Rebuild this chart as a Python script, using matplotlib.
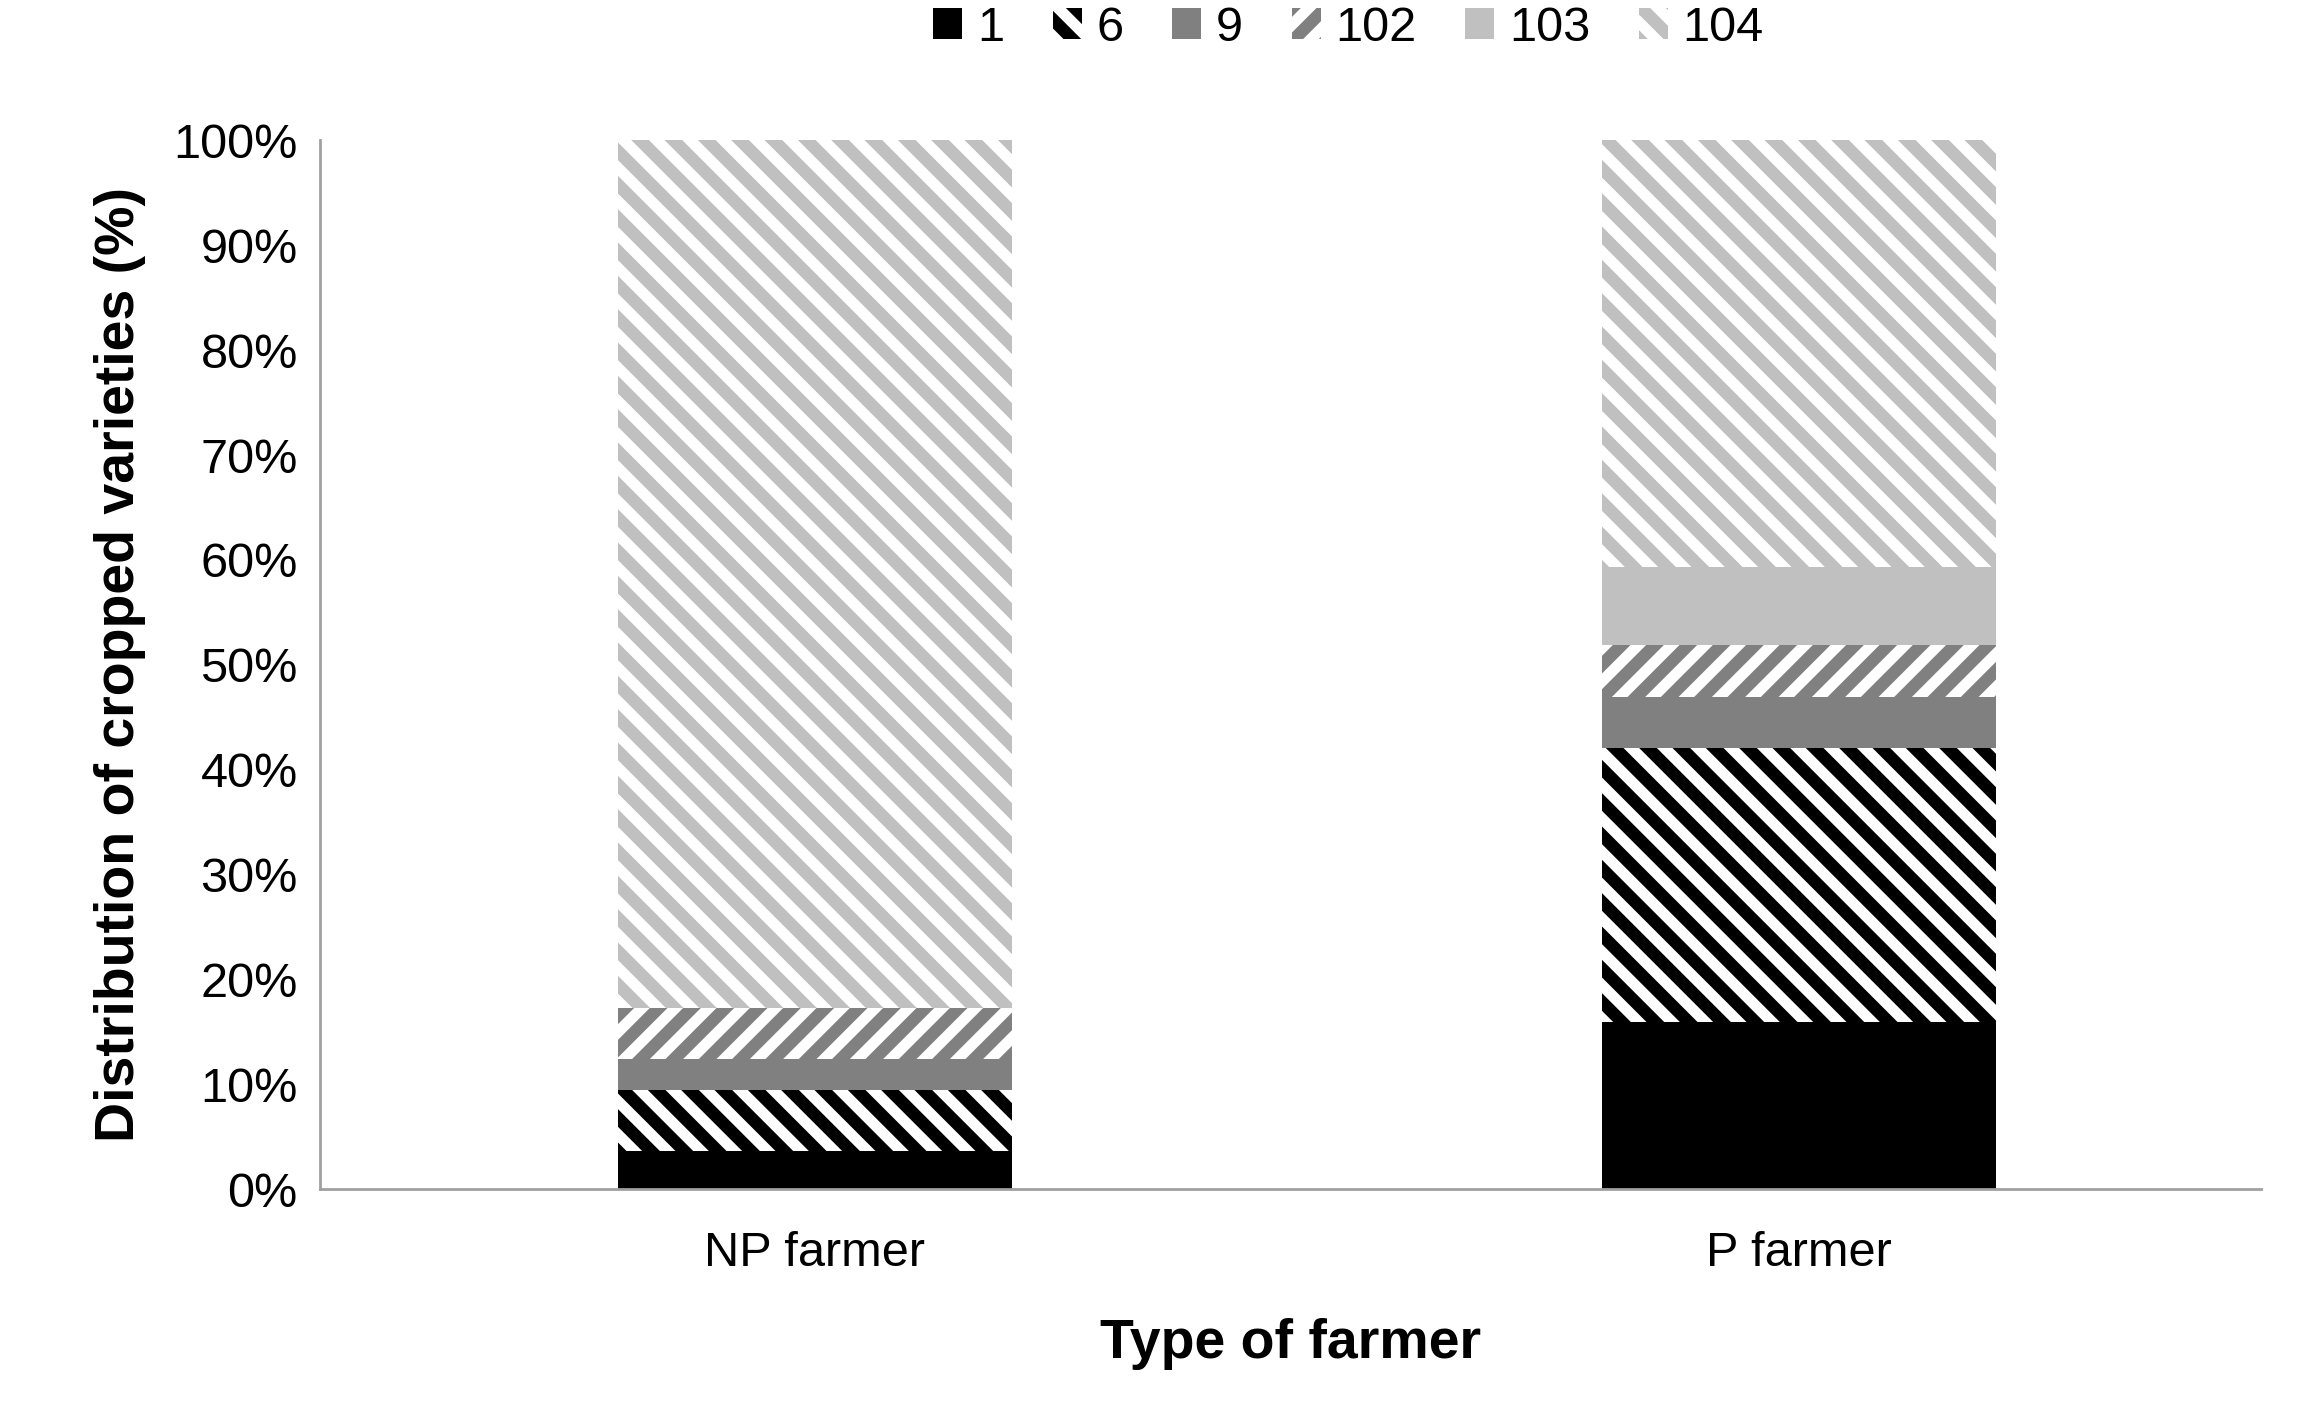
import matplotlib
matplotlib.use("Agg")
import matplotlib.pyplot as plt
from matplotlib.ticker import PercentFormatter

categories = ["NP farmer", "P farmer"]
series = ["1", "6", "9", "102", "103", "104"]
v1 = [3.6, 15.9]
v6 = [5.9, 26.2]
v9 = [2.9, 4.8]
v102 = [4.9, 5.0]
v103 = [0.0, 7.4]
v104 = [82.7, 40.7]

plt.rcParams['font.family'] = ['Liberation Sans', 'DejaVu Sans']
plt.rcParams['hatch.linewidth'] = 9

fig = plt.figure(figsize=(23.02, 14.04), dpi=100)
ax = fig.add_axes([0.139, 0.153, 0.843, 0.747])

styles = [
    dict(facecolor="black", edgecolor="black", hatch=None),
    dict(facecolor="white", edgecolor="black", hatch="\\"),
    dict(facecolor="#808080", edgecolor="#808080", hatch=None),
    dict(facecolor="white", edgecolor="#808080", hatch="/"),
    dict(facecolor="#c0c0c0", edgecolor="#c0c0c0", hatch=None),
    dict(facecolor="white", edgecolor="#c0c0c0", hatch="\\"),
]
x = range(len(categories))
bottom = [0.0, 0.0]
for name, vals, st in zip(series, [v1, v6, v9, v102, v103, v104], styles):
    ax.bar(x, vals, width=0.40, bottom=bottom, label=name, linewidth=0, **st)
    bottom = [b + v for b, v in zip(bottom, vals)]

ax.set_xlim(-0.503, 1.469)
ax.set_ylim(0, 100)
ax.set_yticks(range(0, 101, 10))
ax.yaxis.set_major_formatter(PercentFormatter(decimals=0))
ax.set_xticks(list(x))
ax.set_xticklabels(categories)
ax.tick_params(labelsize=35, length=0, pad=16)
ax.tick_params(axis="x", pad=30)
for s in ["top", "right"]:
    ax.spines[s].set_visible(False)
for s in ["left", "bottom"]:
    ax.spines[s].set_color("#a0a0a0")
    ax.spines[s].set_linewidth(2)
ax.set_xlabel("Type of farmer", fontsize=40, fontweight="bold", labelpad=30)
ax.set_ylabel("Distribution of cropped varieties (%)", fontsize=40, fontweight="bold", labelpad=20)
ax.legend(loc="upper center", bbox_to_anchor=(0.53, 1.17), ncol=6, frameon=False,
          fontsize=35, handlelength=0.6, handleheight=0.6, handletextpad=0.3, columnspacing=1.0)
fig.savefig("out.png", dpi=100)
